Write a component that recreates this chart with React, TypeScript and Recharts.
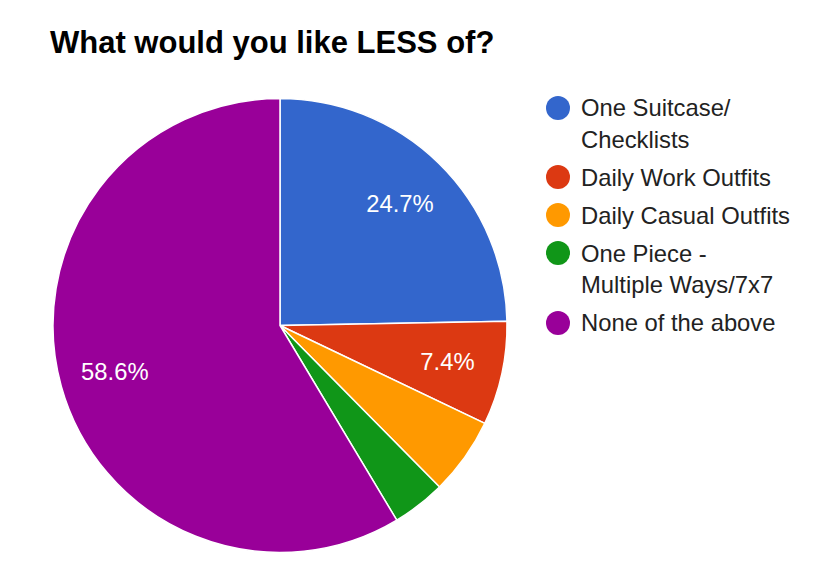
import { PieChart, Pie, Cell, Legend } from "recharts";

// Survey answers, share of respondents (%)
const categories = [
  "One Suitcase/\nChecklists",
  "Daily Work Outfits",
  "Daily Casual Outfits",
  "One Piece -\nMultiple Ways/7x7",
  "None of the above",
];
const shares = [24.7, 7.4, 5.5, 3.8, 58.6];
const colors = ["#3366cc", "#dc3912", "#ff9900", "#109618", "#990099"];

const data = categories.map((name, i) => ({ name, value: shares[i] }));

const FONT = "'Liberation Sans', Arial, Helvetica, sans-serif";
const RAD = Math.PI / 180;

// percentage inside the slice, skipped for thin slices
const renderLabel = (props: any) => {
  const { cx, cy, midAngle, outerRadius, value } = props;
  if (value < 7) return null;
  const r = outerRadius * 0.755;
  const x = cx + r * Math.cos(-midAngle * RAD);
  const y = cy + r * Math.sin(-midAngle * RAD);
  return (
    <text
      x={x}
      y={y}
      fill="#ffffff"
      textAnchor="middle"
      dominantBaseline="central"
      style={{ fontFamily: FONT, fontSize: 23.8 }}
    >
      {value.toFixed(1)}%
    </text>
  );
};

// legend keeps the data order (recharts would sort it by name)
const renderLegend = () => (
  <div style={{ fontFamily: FONT, fontSize: 23.8, color: "#222222" }}>
    {categories.map((name, i) => (
      <div
        key={`leg-${i}`}
        style={{ display: "flex", alignItems: "flex-start", marginBottom: 6.4, lineHeight: "31.6px" }}
      >
        <span
          style={{
            width: 24,
            height: 24,
            borderRadius: "50%",
            background: colors[i],
            marginTop: 3.8,
            marginRight: 11,
            flexShrink: 0,
          }}
        />
        <span style={{ whiteSpace: "pre-line" }}>{name}</span>
      </div>
    ))}
  </div>
);

export default function App() {
  return (
    <div style={{ position: "absolute", left: 0, top: 0, width: 830, height: 572, background: "#ffffff" }}>
      <div
        style={{
          position: "absolute",
          left: 50,
          top: 26.7,
          fontFamily: FONT,
          fontWeight: "bold",
          fontSize: 31,
          lineHeight: "31px",
          color: "#000000",
          whiteSpace: "nowrap",
        }}
      >
        What would you like LESS of?
      </div>
      <PieChart width={830} height={572} margin={{ top: 0, right: 0, bottom: 0, left: 0 }}>
        <Pie
          data={data}
          dataKey="value"
          nameKey="name"
          cx={280}
          cy={325.5}
          outerRadius={227}
          startAngle={90}
          endAngle={-270}
          stroke="#ffffff"
          strokeWidth={1.5}
          label={renderLabel}
          labelLine={false}
          isAnimationActive={false}
        >
          {data.map((d, i) => (
            <Cell key={`cell-${i}`} fill={colors[i]} />
          ))}
        </Pie>
        <Legend
          layout="vertical"
          verticalAlign="top"
          align="right"
          content={renderLegend}
          wrapperStyle={{ position: "absolute", left: 546, top: 92, width: 280, right: "auto" }}
        />
      </PieChart>
    </div>
  );
}
